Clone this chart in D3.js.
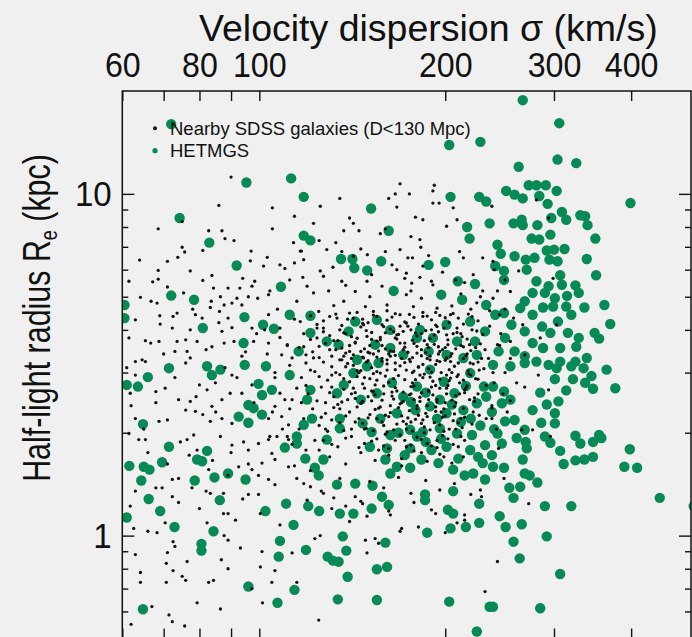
<!DOCTYPE html>
<html>
<head>
<meta charset="utf-8">
<script src="https://cdn.jsdelivr.net/npm/d3@7"></script>
<style>
  html, body { margin: 0; padding: 0; background: #f0f0f0; }
  svg { display: block; }
  text { font-family: "Liberation Sans", Arial, Helvetica, sans-serif; fill: #111; }
</style>
</head>
<body>
<svg id="chart" width="692" height="637"></svg>
<script>
// Velocity dispersion (km/s) axis ticks
const sigmaLabelled = [60, 80, 100, 200, 300, 400];
const sigmaTickValues = [60, 70, 80, 90, 100, 200, 300, 400];
// Half-light radius (kpc) axis ticks
const radiusMajor = [1, 10];
const radiusMinor = [0.6, 0.7, 0.8, 0.9, 2, 3, 4, 5, 6, 7, 8, 9];

// HETMGS galaxies: [sigma km/s, Re kpc]
const hetmgs = [
  [95.3,10.8],[112.6,11.1],[74.3,8.5],[83,7.2],[91.9,6.17],[72,5.04],[78.4,4.9],[108.4,5.35],[60.5,4.73],[60.5,4.33],
  [94.6,4.36],[112,4.43],[81,4.05],[101.4,4.14],[105.6,4.03],[94.3,3.66],[72,16],
  [203,13.9],[228,14.2],[118,9.8],[151.7,9.06],[204,9.8],[227,9.8],[233,9.5],[162,7.8],[118,7.55],[121,7.31],[217,8.0],
  [219,7.4],[236,8.2],[135.6,6.45],[141.5,6.45],[157.5,6.35],[142.5,6.07],[149.5,5.97],[188,6.2],[200,6.32],[209.6,5.55],
  [223.5,5.45],[165,5.2],[197,5.07],[213,4.9],[233,4.73],[121,4.4],[143,4.23],[155,4.28],[163,4.0],[182,4.0],[201,4.14],
  [219.5,4.23],[191,3.79],[180,3.79],[209,3.7],[223.5,3.7],[232,3.96],[121,3.92],[139.5,3.96],[128.6,3.7],[134.4,3.62],
  [154,3.62],[163,3.54],[115.8,3.46],[171,3.38],[188,3.46],[201,3.38],[214,3.31],[225,3.38],[144,3.27],[156,3.2],
  [267,18.8],[306,16.1],[304,12.6],[326,12.3],[263,12.0],[399,9.4],[251,10.2],[259,9.95],[273,10.6],[281,10.6],[291,10.6],
  [303,10.2],[267,9.7],[284,9.86],[293,9.35],[309,8.85],[297,8.5],[314,8.4],[331,8.66],[337,8.6],[340,8.1],[258,8.2],
  [266,8.4],[267,8.1],[282,8.1],[296,7.6],[276,7.4],[284,7.35],[350,7.4],[243,7.1],[292,6.83],[300,6.87],[312,6.9],
  [246,6.68],[259,6.57],[270,6.42],[279,6.5],[295,6.42],[304,6.35],[339,6.45],[241,6.15],[249,5.95],[271,6.0],[351,5.78],
  [249,5.6],[307,5.78],[281,5.55],[309,5.42],[294,5.37],[325,5.4],[329,5.13],[277,5.13],[290,5.13],[301,4.95],[315,5.03],
  [269,4.85],[264.5,4.63],[288,4.65],[299,4.68],[314,4.68],[336,4.65],[362,4.73],[249,4.48],[241,4.43],[277,4.43],
  [304.5,4.23],[320,4.43],[370,4.16],[256,4.14],[269,3.96],[287,4.09],[296,3.92],[316,3.92],[329,3.79],[349,3.92],
  [355,3.77],[250,3.79],[277,3.66],[288,3.54],[307,3.54],[326,3.57],[259,3.46],[269,3.35],[244,3.46],[307,3.23],
  [325,3.23],[339,3.31],[281,3.23],
  [71.4,3.09],[66,2.91],[61,2.76],[63.6,2.73],[82.3,3.13],[83.8,2.95],[86.5,3.06],[94.7,3.16],[102.5,3.13],[99.7,2.78],
  [104.8,2.67],[101,2.58],[112,2.95],[96,2.41],[97.9,2.36],[92.6,2.23],[101,2.26],[96,2.14],[64.8,2.12],[71.4,1.82],
  [82.3,1.77],[79.3,1.67],[80.8,1.65],[69.6,1.64],[61.6,1.6],[65,1.59],[66.4,1.56],[64.4,1.45],[78.6,1.45],[84.6,1.48],
  [89,1.52],[95,1.46],[110,1.81],[66.2,1.28],[86.3,1.27],[69.1,1.18],[61,1.13],[72.9,1.06],[102.3,1.18],[110.5,1.24],
  [84.3,1.03],[80.6,0.946],[80.6,0.904],[108,0.965],[107.5,0.868],[113.6,1.075],[96,0.71],[107,0.636],[114,0.694],[64.8,0.609],
  [121,2.67],[119.5,2.5],[133.6,2.61],[137,2.76],[142,2.99],[149.4,3.13],[155,2.61],[146,2.5],[164,2.8],[171,2.55],
  [180,2.73],[189,3.06],[199,2.82],[207,2.61],[219.5,2.99],[231,2.73],[225,2.44],[214,2.33],[201,2.28],[189,2.39],
  [179,2.33],[167,2.28],[157,2.2],[147,2.13],[135,2.2],[121.7,2.2],[118,2.11],[115,1.95],[115,1.86],[128.6,1.91],
  [135,2.06],[152,2.01],[163,1.97],[175.5,2.04],[184,2.01],[196,2.06],[209,1.99],[221,1.97],[232,1.84],[219.5,1.78],
  [201,1.82],[190,1.78],[175.5,1.8],[161,1.8],[151,1.82],[160,1.67],[167,1.59],[175.5,1.58],[183,1.67],[195,1.63],
  [206,1.56],[215,1.5],[222,1.52],[232,1.46],[230,1.63],[163,1.52],[118.7,1.68],[127,1.67],[123,1.58],[124.8,1.5],
  [133.6,1.41],[143,1.42],[152.5,1.4],[158,1.3],[162,1.23],[152,1.2],[142,1.16],[135,1.16],[125,1.18],[120,1.22],
  [185.5,1.32],[185.5,1.27],[206,1.35],[202,1.19],[206,1.16],[204,1.05],[216,1.06],[227,1.09],[227,1.24],[187,1.02],
  [136.5,0.995],[160,0.954],[119,0.908],[138.3,0.904],[129,0.868],[131.6,0.845],[134.4,0.839],[155,0.797],[161,0.81],
  [139,0.758],[134,0.651],[155,0.648],[203,0.641],[225,0.524],[236,0.619],
  [186,2.62],[194,2.2],[212,2.15],[228,2.1],[238,2.3],[197,1.92],[176,2.46],[168,2.0],[205,2.42],[216,2.74],
  [226,1.7],[238,1.72],[210,1.68],[186,1.88],[172,1.72],[240,2.05],[233,2.55],[220,2.2],[196,2.5],[180,1.95],
  [239,3.16],[255,3.13],[269,3.2],[294,3.16],[303,3.09],[320,3.13],[335,3.09],[365,3.06],[301,2.87],[322,2.87],
  [345,2.93],[337,2.8],[347,2.69],[377,2.7],[314,2.66],[285,2.62],[249,2.64],[239,2.73],[255,2.5],[292,2.42],
  [305,2.47],[301,2.28],[277,2.33],[247,2.44],[250,2.16],[259,2.18],[286,2.14],[301,2.13],[269,2.04],[243,1.99],
  [247,1.86],[261,1.93],[270,1.88],[271,1.8],[290,1.95],[296,1.87],[307,1.77],[325,1.96],[331,1.86],[347,1.88],
  [355,1.97],[358,1.93],[347,1.7],[325,1.66],[336,1.67],[311,1.62],[267,1.67],[239,1.59],[249,1.58],[269,1.52],
  [274,1.5],[282,1.43],[264.5,1.39],[254,1.38],[258,1.29],[290,1.22],[320,1.22],[245,1.14],[250.5,1.06],[266,1.08],
  [258,0.96],[292,0.995],[264,0.858],[307,0.772],[239,0.619],[285,0.613],[398,1.79],[390,1.59],[409,1.58],[445,1.29],
  [505,1.22]
];

// Nearby SDSS galaxies (D < 130 Mpc): [sigma km/s, Re kpc]
const sdss = [
  [90,11.2],[86,9.25],[105,9.1],[68.6,7.9],[82.8,7.8],[87,7.8],[105,7.9],[91,7.3],[75,6.98],[75.7,6.76],[73.8,6.52],
  [81,6.83],[103,6.52],[96.7,6.37],[71,6.35],[101.6,6.15],[110,6.05],[68.6,5.97],[77.3,5.95],[83.8,5.77],[81,5.58],
  [68.6,5.63],[67.2,5.53],[98.3,5.55],[61.5,5.55],[94,5.66],[97.3,5.37],[71,5.34],[64.2,4.98],[75.4,5.13],[84.3,5.3],
  [89,5.3],[86.5,5.0],[92,4.95],[96,5.0],[99.4,4.95],[103.5,5.07],[66.8,4.85],[68.3,4.79],[83.6,4.85],[87.7,4.73],
  [90.3,4.79],[93.7,4.73],[83.3,4.65],[73.6,4.48],[72.5,4.38],[78.8,4.43],[80.8,4.33],[86.2,4.53],[89,4.33],[103.5,4.43],
  [63,4.28],[69.1,4.16],[72.3,4.05],[77.3,4.0],[87,3.96],[90.3,4.06],[97.3,4.05],[108,4.05],[61.5,3.79],[65.4,3.72],
  [66.7,3.66],[68.8,3.7],[73.6,3.7],[76,3.74],[79.3,3.7],[83.8,3.57],[87.7,3.66],[91,3.7],[97.9,3.7],[103.5,3.66],
  [111,3.62],[73,3.46],[76.4,3.46],[64.6,3.27],[63,3.23],[77.3,3.31],[93.7,3.35],[108.7,3.38],[113,3.31],
  [169,10.7],[192,10.6],[191,10.2],[166,10],[175,10],[162,9.7],[135,9.7],[191,9.4],[195.5,9.4],[167,9.15],[125.5,9.2],
  [206,9.1],[114,8.6],[179,8.55],[184,8.4],[140,8.5],[209,8.4],[122.4,8.2],[142,8.2],[201,8.04],[137,7.8],[145,7.8],
  [157,7.65],[176,7.5],[182,7.35],[133,7.2],[113.6,7.2],[116.5,6.8],[128.6,6.87],[136,6.78],[142,6.57],[149.6,6.64],
  [160,6.78],[169,6.87],[182.6,6.98],[211,6.78],[174,6.5],[177,6.5],[118,6.42],[114,6.28],[230,6.5],[214,6.5],[184,6.15],
  [131.6,6.1],[125.5,5.95],[167,6.0],[117.6,5.7],[127,5.74],[172,5.66],[182,5.7],[173,5.86],[119.5,5.37],[136,5.55],
  [149.4,5.55],[158,5.37],[176.5,5.48],[191,5.42],[122.4,5.13],[129.5,5.2],[143,5.18],[151,5.0],[173,5.07],[183,4.95],
  [137,4.85],[115,4.85],[132,4.71],[148.5,4.68],[161,4.73],[177.6,4.68],[194,4.63],[124.8,4.53],[140,4.48],[153,4.53],
  [169,4.43],[184,4.38],[204,4.43],[133.6,4.33],[116.5,4.23],[147.5,4.14],[159,4.09],[173,4.19],[194,4.09],[127,4.05],
  [137,3.92],[149.4,3.83],[167,3.87],[179,3.92],[201,3.87],[124,3.79],[143,3.66],[157,3.74],[172,3.66],[187,3.62],
  [214,3.57],[118,3.57],[130,3.5],[140,3.46],[151,3.42],[165,3.46],[180,3.42],[196,3.46],[122.4,3.31],[135,3.27],
  [147.5,3.31],[161,3.27],[175.6,3.23],[189,3.27],[204,3.23],[219.5,3.2],
  [238,9.2],[239,6.35],[263,5.95],[255,5.18],[239,4.95],[245,4.43],[258,4.33],[267,4.14],[299,5.66],[294,8.5],[281,9.6],
  [243,3.62],[255,3.7],[285,3.79],[303,4.14],[269,3.38],
  [65.4,3.23],[63,2.95],[61.8,2.61],[68,2.64],[70.4,2.7],[74,2.5],[77.3,2.47],[80,2.76],[76,2.33],[78.8,2.31],[82.3,2.67],
  [84.9,2.8],[87,2.5],[90.3,2.95],[89.7,2.61],[83.8,2.39],[81,2.26],[83.3,2.16],[87,2.2],[90.3,2.13],[93.7,2.61],
  [97.3,2.76],[106,3.0],[108,2.61],[113,2.5],[106,2.39],[108.7,2.23],[103.5,2.2],[111.5,2.11],[63,2.2],[68.8,2.16],
  [71,2.18],[61.5,1.99],[63.8,1.91],[65.4,1.91],[74.5,1.88],[76.4,1.91],[78.3,1.97],[79.3,1.78],[86.5,1.95],[90.3,1.84],
  [94.3,1.88],[96,1.78],[99.7,1.86],[103.5,1.91],[106.8,1.95],[111.5,1.91],[104.8,1.74],[101,1.63],[106,1.67],[111.5,1.59],
  [92.6,1.59],[97.3,1.56],[99.7,1.5],[103.5,1.46],[89,1.5],[82.8,1.56],[74,1.47],[72.3,1.46],[68,1.38],[69.6,1.38],
  [77.8,1.38],[82,1.35],[83.3,1.33],[87.5,1.33],[96,1.32],[99.7,1.32],[106,1.41],[61.8,1.22],[72.3,1.3],[87.5,1.16],
  [89,1.16],[91.5,1.11],[100.4,1.16],[70.4,1.09],[62.6,1.05],[66,1.03],[68.3,1.02],[82.3,1.09],[87.7,1.0],[89,0.97],
  [72.5,0.96],[73,0.93],[93.2,0.92],[108,1.075],[71,0.892],[101,0.898],[70.7,0.83],[76.4,0.84],[86.8,0.85],[100.4,0.81],
  [106,0.79],[64.2,0.78],[72.5,0.79],[89,0.8],[75,0.76],[76,0.74],[64.2,0.73],[70.7,0.73],[82.8,0.73],[84.3,0.74],
  [104.8,0.73],[97.3,0.70],[79.3,0.636],[101.2,0.636],[86.5,0.61],[71.4,0.586],[72.3,0.56],[75.7,0.544],
  [115,1.47],[121,1.39],[127,1.33],[119.5,1.27],[132,1.29],[138,1.22],[147,1.24],[149.4,1.14],[163,1.15],[169,1.03],
  [181,1.06],[190,1.19],[215,1.15],[215,1.11],[209,1.09],[228,1.36],[229,1.3],[125.5,1.0],[148.5,0.97],[154,0.98],
  [149.4,0.89],[113,0.89],[115,0.73],[124.8,0.566],[232,0.686],
  [283,2.95],[294,2.67],[238,2.36],[249,1.47],[273,1.24],[243,0.84],[261,2.8],[269,2.72],[255,2.48],[266,2.04],
  [277,2.04],[238,2.2],[296,1.95],
  [121,4.4],[127,4.25],[133,4.45],[139,4.3],[144,4.5],[150,4.2],[155,4.38],[161,4.27],[166,4.46],[172,4.22],[178,4.35],
  [184,4.5],[190,4.28],[196,4.41],[203,4.2],[210,4.33],[218,4.45],[226,4.25],
  [118,3.9],[124,4.05],[130,3.85],[135,4.0],[141,3.82],[146,4.08],[152,3.93],[157,3.8],[163,4.02],[168,3.88],[174,4.1],
  [180,3.84],[186,3.98],[192,3.86],[199,4.05],[206,3.9],[213,3.82],[221,4.0],[230,3.88],
  [116,3.55],[122,3.45],[128,3.65],[133,3.5],[138,3.42],[143,3.68],[148,3.52],[153,3.4],[158,3.6],[163,3.47],[169,3.66],
  [174,3.44],[180,3.58],[186,3.43],[192,3.63],[198,3.5],[205,3.41],[212,3.6],[220,3.48],[228,3.64],
  [119,3.2],[125,3.32],[131,3.12],[136,3.27],[142,3.15],[147,3.33],[152,3.1],[158,3.24],[163,3.35],[169,3.14],[175,3.28],
  [181,3.11],[187,3.3],[193,3.17],[200,3.26],[207,3.13],[214,3.3],[222,3.18],[231,3.08],
  [117,2.9],[123,3.02],[129,2.85],[135,2.96],[140,2.82],[146,3.04],[151,2.88],[157,2.99],[162,2.81],[168,2.94],[173,3.05],
  [179,2.86],[185,2.97],[191,2.83],[197,3.0],[204,2.89],[211,2.8],[218,2.98],[226,2.87],
  [120,2.6],[126,2.72],[132,2.55],[137,2.68],[143,2.52],[148,2.7],[154,2.58],[159,2.74],[165,2.51],[171,2.63],[176,2.73],
  [182,2.54],[188,2.66],[194,2.5],[201,2.7],[208,2.57],[215,2.67],[223,2.53],
  [122,2.35],[128,2.28],[134,2.42],[140,2.3],[146,2.44],[151,2.26],[157,2.38],[163,2.29],[169,2.43],[175,2.32],[181,2.25],
  [187,2.4],[193,2.31],[200,2.45],[207,2.27],[214,2.36],[222,2.3],
  [125,2.1],[131,2.18],[137,2.03],[143,2.15],[149,2.06],[155,2.2],[161,2.01],[167,2.12],[173,2.05],[179,2.19],[185,2.08],
  [192,2.14],[199,2.02],[206,2.17],[213,2.07],[221,2.12],
  [127,1.9],[134,1.82],[141,1.95],[148,1.86],[155,1.92],[162,1.8],[169,1.97],[176,1.84],[183,1.91],[190,1.83],[198,1.96],
  [206,1.85],[215,1.9],
  [130,1.7],[138,1.62],[146,1.75],[154,1.66],[162,1.72],[170,1.6],[178,1.77],[187,1.65],[196,1.73],[205,1.63],[214,1.7],
  [142,3.38],[149,3.22],[156,3.47],[161,3.05],[166,3.2],[171,3.5],[177,3.0],[183,3.36],[188,3.08],[195,3.4],[201,2.95],
  [147,2.78],[153,2.98],[159,2.6],[165,2.88],[171,2.47],[177,2.8],[183,2.62],[189,2.91],[196,2.7],[203,2.84],[139,2.5],
  [145,2.2],[152,2.48],[158,2.15],[164,2.56],[170,2.24],[178,2.5],[184,2.18],[191,2.58],[198,2.22],[205,2.49],[212,2.2],
  [144,2.92],[150,3.44],[167,3.76],[185,3.72],[202,3.62],[138,3.12],[210,2.96],[217,2.74],[173,2.12],[160,1.98],[186,2.28],
  [194,1.9],[154,2.34],[180,2.4],
  [103,3.4],[106,2.9],[108,3.8],[110,2.5],[112,3.15],[114,4.3],[105,2.3],[109,2.05],[113,1.85],[107,4.6],[102,4.0],
  [111,3.6],[115,2.7],[118,2.2],[104,1.95],[235,3.3],[240,2.8],[245,3.6],[238,2.4],[250,3.0],[236,4.1],[242,2.05],
  [248,2.6],[255,3.3],[233,2.2],[252,2.3],[244,1.8],
  [118,1.42],[126,1.35],[135,1.47],[143,1.3],[151,1.44],[159,1.38],[168,1.48],[176,1.33],[186,1.45],[196,1.36],[207,1.42],
  [220,1.32],[131,1.2],[146,1.26],[162,1.18],[178,1.25],[193,1.16],[140,1.1],[170,1.05],[200,1.02],[156,0.95],[123,0.98],
  [108,6.2],[112,5.6],[104,5.2],[117,6.8],[125,7.3],[146,6.9],[160,7.9],[188,6.6],[198,5.9],[215,5.5],[230,5.2],[240,6.0],
  [250,5.6],[225,4.8],[138,5.4],[152,5.8],[164,6.2],[176,5.2],[190,5.55],
  [62,2.4],[65,2.05],[68,2.45],[70,3.4],[73,2.9],[76,3.2],[79,2.55],[82,3.5],[85,2.3],[88,3.1],[92,2.9],[95,3.45],[98,2.45],
  [66,1.75],[71,1.62],[77,1.72],[84,1.66],[90,1.75],[96,1.62],[63,1.35],[74,1.25],[80,1.2],[94,1.28],[99,3.9],[86,4.2],
  [78,4.6],[69,4.4],[93,5.3],[97,6.8],[88,7.4],[75,8.3],[64,6.4],[61,3.1],[63,0.88],[67,0.62],[62,0.55],
  [124,4.15],[130,4.38],[136,4.12],[142,4.33],[147,4.18],[153,4.42],[158,4.14],[164,4.36],[169,4.1],[175,4.44],[181,4.16],
  [187,4.39],[193,4.13],[200,4.34],[206,4.47],[214,4.16],[221,4.37],
  [121,3.75],[127,3.95],[132,3.72],[138,3.9],[144,3.78],[149,3.98],[155,3.71],[160,3.92],[166,3.79],[171,3.96],[177,3.73],
  [183,3.9],[189,3.77],[195,3.95],[202,3.74],[209,3.93],[217,3.76],[225,3.97],
  [119,3.38],[125,3.58],[131,3.35],[136,3.54],[141,3.3],[146,3.46],[151,3.6],[155,3.33],[160,3.52],[166,3.37],[172,3.56],
  [177,3.32],[183,3.5],[189,3.35],[195,3.57],[201,3.31],[208,3.52],[216,3.36],[224,3.55],
  [121,3.05],[127,3.22],[133,3.0],[139,3.19],[144,3.04],[150,3.25],[155,3.02],[161,3.18],[166,3.06],[172,3.21],[178,3.03],
  [184,3.17],[190,3.01],[196,3.23],[203,3.06],[210,3.2],[218,3.04],[226,3.22],
  [119,2.75],[125,2.92],[131,2.72],[137,2.88],[142,2.7],[148,2.9],[154,2.76],[160,2.93],[166,2.71],[172,2.86],[178,2.74],
  [184,2.9],[190,2.72],[196,2.87],[202,2.75],[209,2.92],[216,2.7],[224,2.88],
  [124,2.48],[130,2.62],[136,2.46],[141,2.6],[147,2.47],[153,2.64],[158,2.49],[164,2.63],[170,2.45],[176,2.6],[182,2.47],
  [188,2.64],[194,2.46],[201,2.6],[208,2.45],[215,2.62],[223,2.47],
  [126,2.22],[132,2.37],[138,2.24],[144,2.38],[150,2.21],[156,2.36],[162,2.23],[168,2.37],[174,2.21],[180,2.35],[187,2.23],
  [193,2.38],[200,2.24],[207,2.39],[215,2.22],
  [129,2.02],[135,2.14],[141,2.05],[147,2.13],[153,2.03],[159,2.1],[165,2.04],[171,2.16],[177,2.02],[183,2.13],[189,2.04],
  [196,2.11],[203,2.05],[210,2.14],
  [131,1.85],[138,1.93],[145,1.81],[152,1.89],[159,1.83],[166,1.9],[173,1.82],[180,1.94],[187,1.86],[194,1.81],[202,1.92],
  [210,1.82],
  [112,2.35],[116,2.05],[119,1.78],[123,1.9],[128,2.05],[114,1.6],[121,1.55],[117,2.45],[125,1.78],[111,1.95],
  [205,4.7],[212,5.1],[220,4.6],[228,5.0],[236,4.55],[208,5.6],[222,5.8],[243,5.2],[232,3.5],[239,3.0],[246,3.9],[250,4.6],
  [145,3.0],[152,2.65],[158,3.3],[163,2.4],[170,3.3],[176,2.15],[182,2.95],[188,2.5],[194,3.25],[199,2.35],[205,3.0],
  [211,2.6],[217,3.4],[220,2.95],[226,2.6],[229,3.3],[212,3.9],[200,3.55],[190,4.0],[178,3.65],[165,3.95],[152,3.75],
  [140,3.6],[135,2.35],[148,2.05],[160,2.25],[172,1.9],[185,2.0],[197,2.3],[208,2.05],[219,2.5],[227,2.25],[167,2.65],
  [155,2.85],[181,3.12],[193,2.75],[204,3.35],[214,2.85],[188,3.55],[175,2.58],[162,3.4],[150,2.55],[143,2.62],[137,3.35],
  [131,2.95],[128,2.45],[134,3.72],[147,4.3],[161,4.55],[176,4.0],[193,4.5],[209,4.05],[219,3.62],[227,3.05],[233,2.75],
  [183,1.75],[170,1.68],[156,1.78],[199,1.7],[212,1.95]
];

const svg = d3.select("#chart");
const W = 692, H = 637;
const plot = { left: 122.3, right: 691, top: 91, bottom: 638.5 };
const FONT = '"Liberation Sans", Arial, Helvetica, sans-serif';

svg.append("rect").attr("width", W).attr("height", H).attr("fill", "#f0f0f0");

const x = d3.scaleLog().domain([60, 500]).range([plot.left, plot.right]);
const y = d3.scaleLog().domain([0.5, 20]).range([plot.bottom, plot.top]);

svg.append("clipPath").attr("id", "plot-clip")
  .append("rect")
  .attr("x", plot.left).attr("y", plot.top)
  .attr("width", plot.right - plot.left).attr("height", plot.bottom - plot.top);

const marks = svg.append("g").attr("clip-path", "url(#plot-clip)");

marks.append("g").selectAll("circle").data(hetmgs).join("circle")
  .attr("cx", d => x(d[0])).attr("cy", d => y(d[1]))
  .attr("r", 5.2).attr("fill", "#078a55");

marks.append("g").selectAll("circle").data(sdss).join("circle")
  .attr("cx", d => x(d[0])).attr("cy", d => y(d[1]))
  .attr("r", 1.65).attr("fill", "#141414");

// Axes: all ticks point into the plot
const sigmaFmt = d => sigmaLabelled.includes(d) ? String(d) : "";
function styleAxis(g, fontSize) {
  g.select(".domain").remove();
  g.selectAll(".tick line").attr("stroke", "#111").attr("stroke-width", 1.4);
  g.selectAll(".tick text").attr("font-size", fontSize)
    .attr("font-family", FONT).attr("fill", "#111")
    .attr("transform", "scale(0.92,1)");
}

svg.append("g").attr("transform", `translate(0,${plot.top})`)
  .call(d3.axisTop(x).tickValues(sigmaTickValues).tickFormat(sigmaFmt).tickSize(-10).tickSizeOuter(0).tickPadding(14.5))
  .call(g => styleAxis(g, 35));

svg.append("g").attr("transform", `translate(0,${plot.bottom})`)
  .call(d3.axisBottom(x).tickValues(sigmaTickValues).tickFormat("").tickSize(-10).tickSizeOuter(0))
  .call(g => styleAxis(g, 35));

svg.append("g").attr("transform", `translate(${plot.left},0)`)
  .call(d3.axisLeft(y).tickValues(radiusMajor).tickFormat(d3.format("d")).tickSize(-12).tickSizeOuter(0).tickPadding(11.5))
  .call(g => styleAxis(g, 36));
svg.append("g").attr("transform", `translate(${plot.left},0)`)
  .call(d3.axisLeft(y).tickValues(radiusMinor).tickFormat("").tickSize(-6).tickSizeOuter(0))
  .call(g => styleAxis(g, 35));
svg.append("g").attr("transform", `translate(${plot.right},0)`)
  .call(d3.axisRight(y).tickValues(radiusMajor).tickFormat("").tickSize(-12).tickSizeOuter(0))
  .call(g => styleAxis(g, 35));
svg.append("g").attr("transform", `translate(${plot.right},0)`)
  .call(d3.axisRight(y).tickValues(radiusMinor).tickFormat("").tickSize(-6).tickSizeOuter(0))
  .call(g => styleAxis(g, 35));

// Frame
svg.append("rect")
  .attr("x", plot.left).attr("y", plot.top)
  .attr("width", plot.right - plot.left).attr("height", plot.bottom - plot.top)
  .attr("fill", "none").attr("stroke", "#111").attr("stroke-width", 1.5);

// Axis titles
svg.append("text").attr("x", 199).attr("y", 40.5)
  .attr("font-size", 37.5).text("Velocity dispersion σ (km/s)");

const yTitle = svg.append("text")
  .attr("transform", "translate(50,318) rotate(-90) scale(0.78,1)")
  .attr("text-anchor", "middle").attr("font-size", 39);
yTitle.append("tspan").text("Half-light radius R");
yTitle.append("tspan").attr("font-size", 23).attr("dy", 7).text("e");
yTitle.append("tspan").attr("dy", -7).text(" (kpc)");

// Legend
const legend = svg.append("g");
legend.append("circle").attr("cx", 155).attr("cy", 128.3).attr("r", 2).attr("fill", "#141414");
legend.append("text").attr("x", 170).attr("y", 135).attr("font-size", 18.5).text("Nearby SDSS galaxies (D<130 Mpc)");
legend.append("circle").attr("cx", 155).attr("cy", 150.7).attr("r", 2.6).attr("fill", "#078a55");
legend.append("text").attr("x", 170).attr("y", 157.2).attr("font-size", 18.5).text("HETMGS");
</script>
</body>
</html>
